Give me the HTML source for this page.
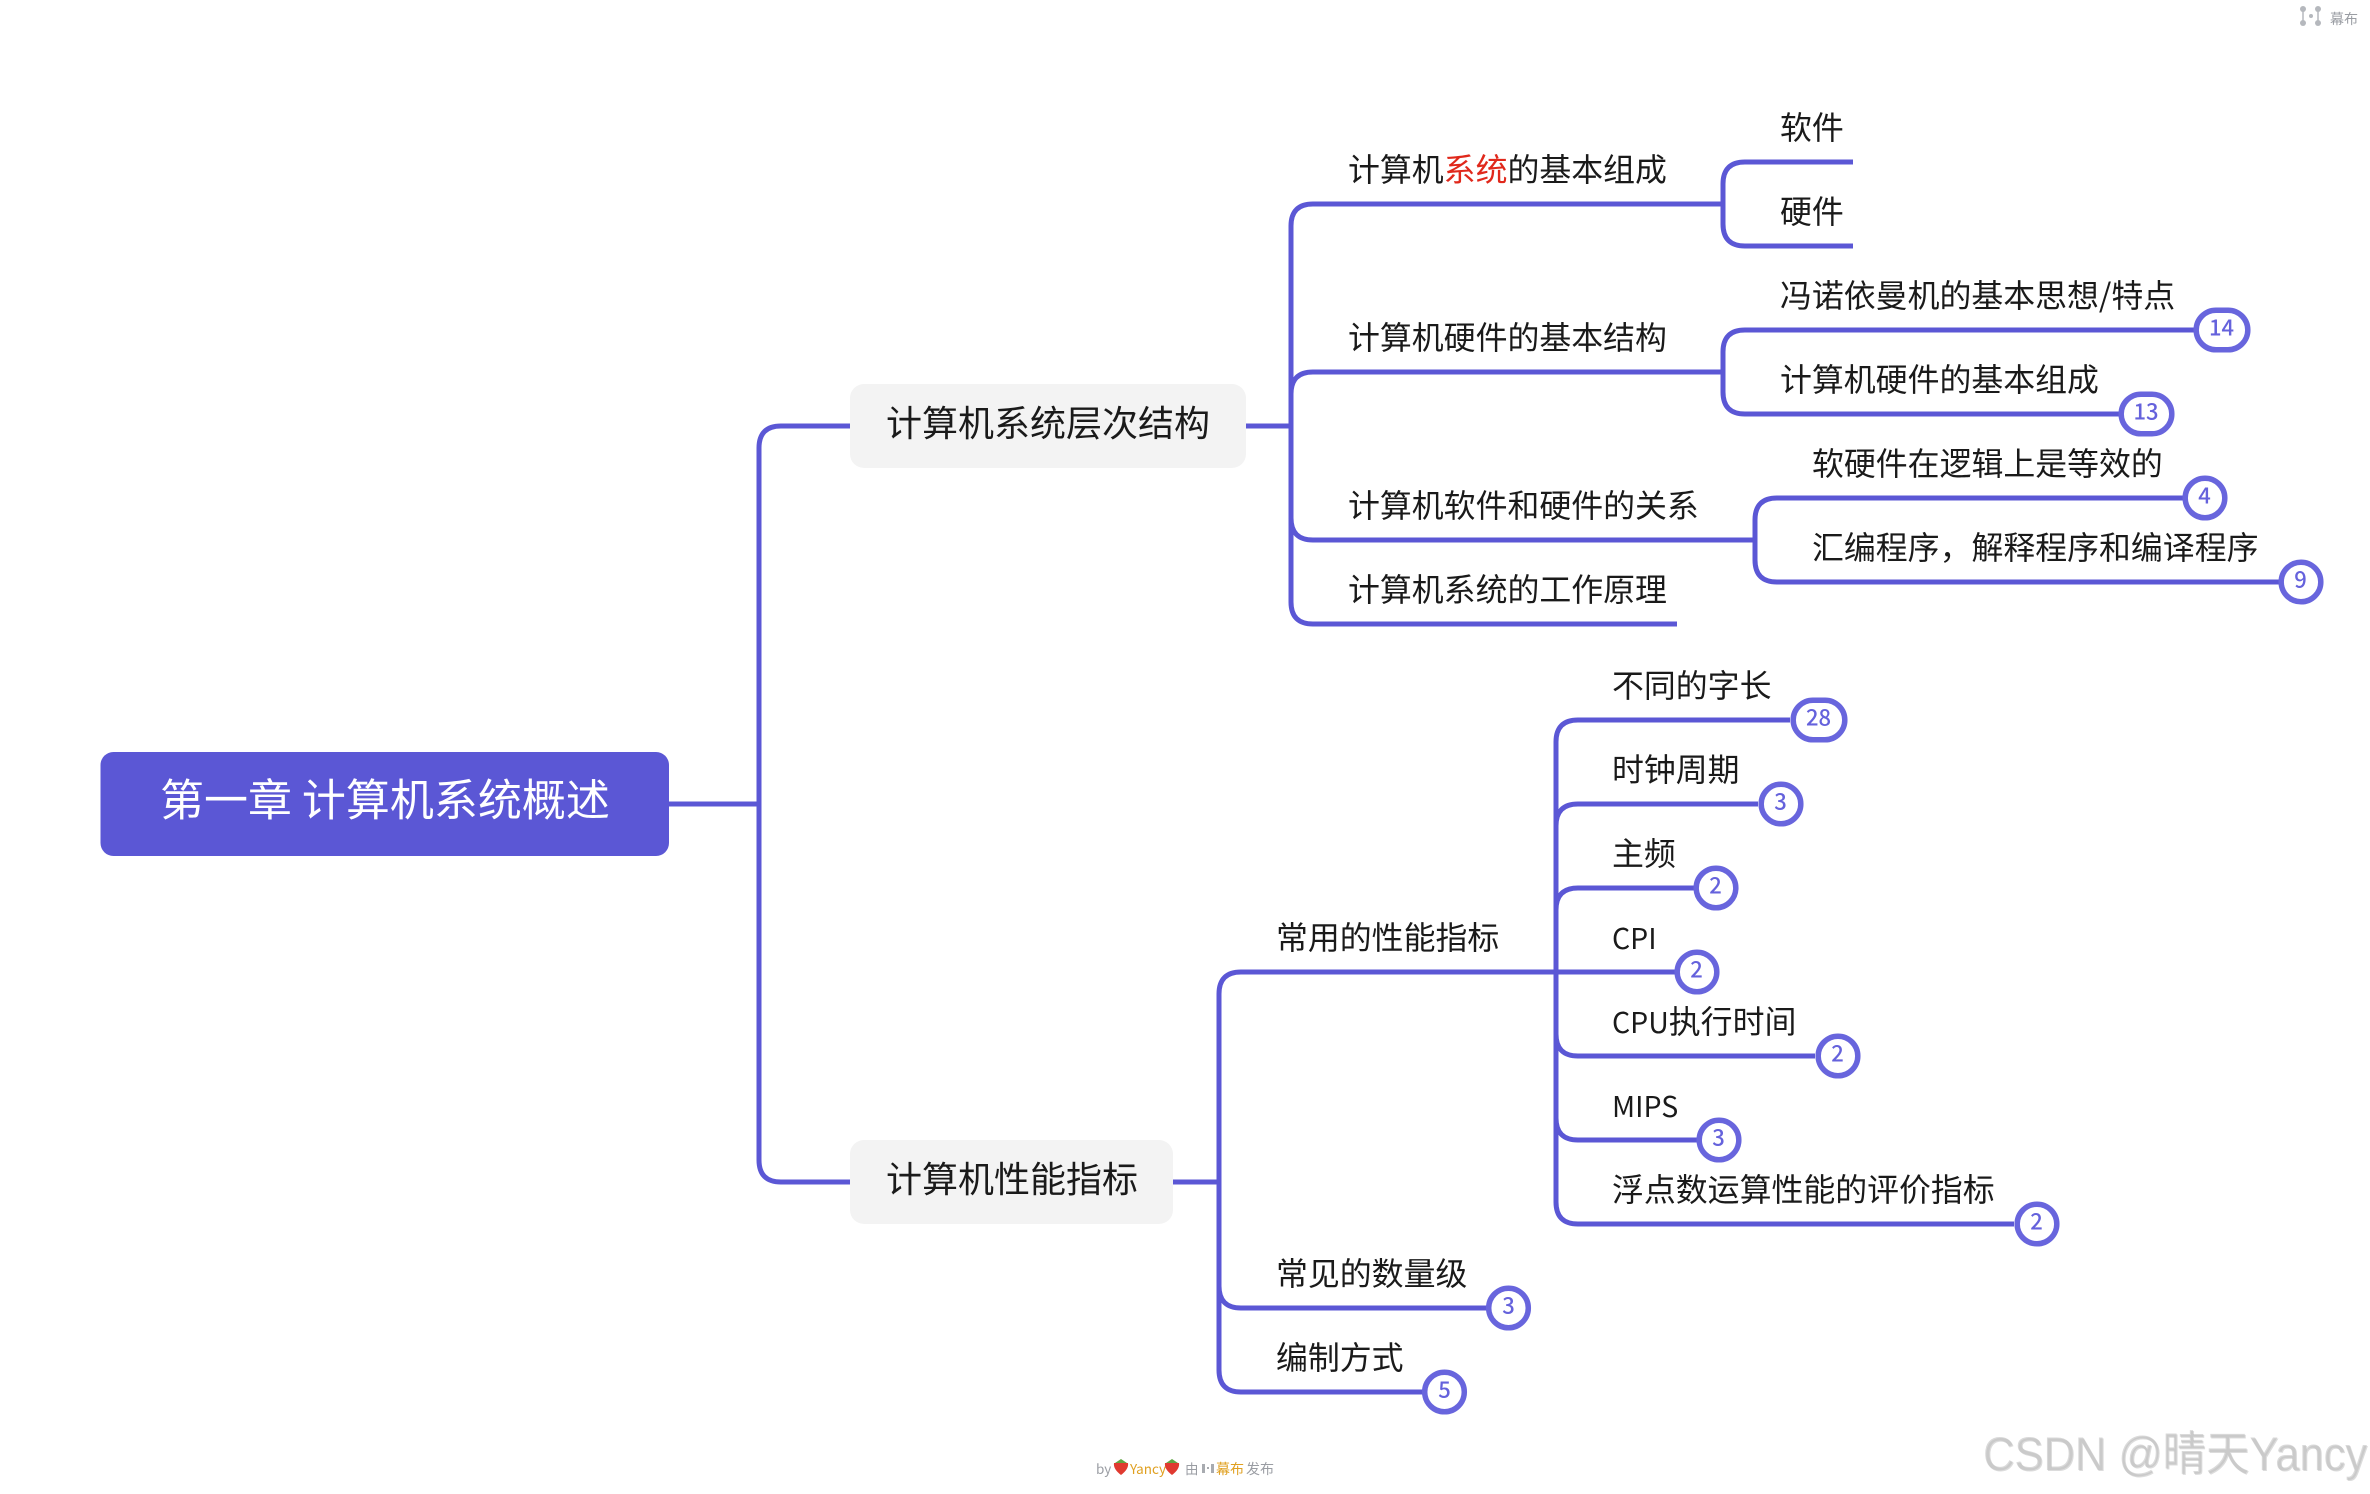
<!DOCTYPE html>
<html><head><meta charset="utf-8">
<style>
html,body{margin:0;padding:0;background:#fff;width:2370px;height:1494px;overflow:hidden}
svg{display:block}
text{font-family:"Noto Sans CJK SC","Liberation Sans",sans-serif;fill:#1a1a1a;font-size:31.900px}
.l{fill:none;stroke:#5b57d5;stroke-width:5}
.b rect{fill:#fff;stroke:#6865dd;stroke-width:5.500}
.b text{fill:#6562dc;font-size:22px;font-weight:500;text-anchor:middle}
.n{font-size:36px}
.s{font-size:28.500px}
</style></head><body>
<svg width="2370" height="1494" viewBox="0 0 2370 1494" xmlns="http://www.w3.org/2000/svg">
<!-- connectors -->
<g class="l">
<path d="M850 426H781Q759 426 759 448V1160Q759 1182 781 1182H850M669 804H759"/>
<path d="M1246 426H1291M1173 1182H1219"/>
<path d="M1723 204H1313Q1291 204 1291 226V602Q1291 624 1313 624H1677"/>
<path d="M1291 394Q1291 372 1313 372H1723M1291 518Q1291 540 1313 540H1755"/>
<path d="M1853 162H1745Q1723 162 1723 184V224Q1723 246 1745 246H1853"/>
<path d="M2194 330H1745Q1723 330 1723 352V392Q1723 414 1745 414H2119"/>
<path d="M2183 498H1777Q1755 498 1755 520V560Q1755 582 1777 582H2279"/>
<path d="M1790 720H1578Q1556 720 1556 742V1202Q1556 1224 1578 1224H2014"/>
<path d="M1556 826Q1556 804 1578 804H1758M1556 910Q1556 888 1578 888H1694M1556 1034Q1556 1056 1578 1056H1815M1556 1118Q1556 1140 1578 1140H1697"/>
<path d="M1675 972H1241Q1219 972 1219 994V1370Q1219 1392 1241 1392H1424M1219 1286Q1219 1308 1241 1308H1488"/>
</g>
<!-- root -->
<rect x="100.500" y="752" width="568.500" height="104" rx="13" fill="#5b57d5"/>
<text x="160" y="815.500" style="font-size:44px;fill:#fff">第一章 计算机系统概述</text>
<!-- level 1 -->
<rect x="850" y="384" width="396" height="84" rx="14" fill="#f3f3f3"/>
<text class="n" x="886" y="436">计算机系统层次结构</text>
<rect x="850" y="1140" width="323" height="84" rx="14" fill="#f3f3f3"/>
<text class="n" x="886" y="1192">计算机性能指标</text>
<!-- level 2 -->
<text x="1348" y="181">计算机<tspan style="fill:#e0281b">系统</tspan>的基本组成</text>
<text x="1348" y="349">计算机硬件的基本结构</text>
<text x="1348" y="517">计算机软件和硬件的关系</text>
<text x="1348" y="601">计算机系统的工作原理</text>
<text x="1276" y="949">常用的性能指标</text>
<text x="1276" y="1285">常见的数量级</text>
<text x="1276" y="1369">编制方式</text>
<!-- level 3 -->
<text x="1780" y="139">软件</text>
<text x="1780" y="223">硬件</text>
<text x="1780" y="307">冯诺依曼机的基本思想/特点</text>
<text x="1780" y="391">计算机硬件的基本组成</text>
<text x="1812" y="475">软硬件在逻辑上是等效的</text>
<text x="1812" y="559">汇编程序，解释程序和编译程序</text>
<text x="1612" y="697">不同的字长</text>
<text x="1612" y="781">时钟周期</text>
<text x="1612" y="865">主频</text>
<text class="s" x="1612" y="949">CPI</text>
<text x="1612" y="1033"><tspan class="s">CPU</tspan>执行时间</text>
<text class="s" x="1612" y="1117">MIPS</text>
<text x="1612" y="1201">浮点数运算性能的评价指标</text>
<!-- badges -->
<g class="b">
<rect x="2196.200" y="310.200" width="51.600" height="39.600" rx="19.800"/><text x="2221.500" y="335.500">14</text>
<rect x="2121.200" y="394.200" width="50.600" height="39.600" rx="19.800"/><text x="2146" y="419.500">13</text>
<rect x="2185.200" y="478.200" width="39.600" height="39.600" rx="19.800"/><text x="2204.500" y="503.500">4</text>
<rect x="2281.200" y="562.200" width="39.600" height="39.600" rx="19.800"/><text x="2300.500" y="587.500">9</text>
<rect x="1793.200" y="700.200" width="51.600" height="39.600" rx="19.800"/><text x="1818.500" y="725.500">28</text>
<rect x="1761.200" y="784.200" width="39.600" height="39.600" rx="19.800"/><text x="1780.500" y="809.500">3</text>
<rect x="1696.200" y="868.200" width="39.600" height="39.600" rx="19.800"/><text x="1715.500" y="893.500">2</text>
<rect x="1677.200" y="952.200" width="39.600" height="39.600" rx="19.800"/><text x="1696.500" y="977.500">2</text>
<rect x="1818.200" y="1036.200" width="39.600" height="39.600" rx="19.800"/><text x="1837.500" y="1061.500">2</text>
<rect x="1699.200" y="1120.200" width="39.600" height="39.600" rx="19.800"/><text x="1718.500" y="1145.500">3</text>
<rect x="2017.200" y="1204.200" width="39.600" height="39.600" rx="19.800"/><text x="2036.500" y="1229.500">2</text>
<rect x="1488.700" y="1288.200" width="39.600" height="39.600" rx="19.800"/><text x="1508.500" y="1313.500">3</text>
<rect x="1424.700" y="1372.200" width="39.600" height="39.600" rx="19.800"/><text x="1444.500" y="1397.500">5</text>
</g>
<!-- top right logo -->
<g fill="#b5b8bd">
<circle cx="2303" cy="9" r="3"/><circle cx="2303" cy="23" r="3"/><circle cx="2318" cy="9" r="3"/><circle cx="2318" cy="23" r="3"/><circle cx="2311" cy="16" r="2"/>
<path d="M2303 9V23M2318 9V23" stroke="#b5b8bd" stroke-width="1.500"/>
</g>
<text x="2330" y="24" style="font-size:14px;fill:#9a9da3">幕布</text>
<!-- footer -->
<text x="1096" y="1474" style="font-size:13.500px;fill:#9a9da3">by</text>
<g><path d="M1114 1463h14q1 6-7 12q-8-6-7-12z" fill="#e03a30"/><path d="M1115 1463h12l-6 -4z" fill="#5fa544"/></g>
<text x="1130" y="1474" style="font-size:13.500px;fill:#e0a020">Yancy</text>
<g><path d="M1165 1463h14q1 6-7 12q-8-6-7-12z" fill="#e03a30"/><path d="M1166 1463h12l-6 -4z" fill="#5fa544"/></g>
<text x="1185" y="1474" style="font-size:13.500px;fill:#9a9da3">由</text>
<g fill="#a8abb0"><rect x="1202" y="1464" width="3" height="9"/><rect x="1211" y="1464" width="3" height="9"/><rect x="1207" y="1467" width="2" height="2"/></g>
<text x="1216" y="1474" style="font-size:14px;fill:#e0a020">幕布</text>
<text x="1246" y="1474" style="font-size:14px;fill:#9a9da3">发布</text>
<!-- watermark -->
<text x="1984" y="1471" textLength="384" lengthAdjust="spacingAndGlyphs" style="font-size:47px;fill:#dcdcdc;font-family:'Liberation Sans','Noto Sans CJK SC',sans-serif">CSDN @晴天Yancy</text>
<text x="1983" y="1470" textLength="384" lengthAdjust="spacingAndGlyphs" style="font-size:47px;fill:#bdbdbd;font-family:'Liberation Sans','Noto Sans CJK SC',sans-serif;opacity:.55">CSDN @晴天Yancy</text>
</svg>
</body></html>
